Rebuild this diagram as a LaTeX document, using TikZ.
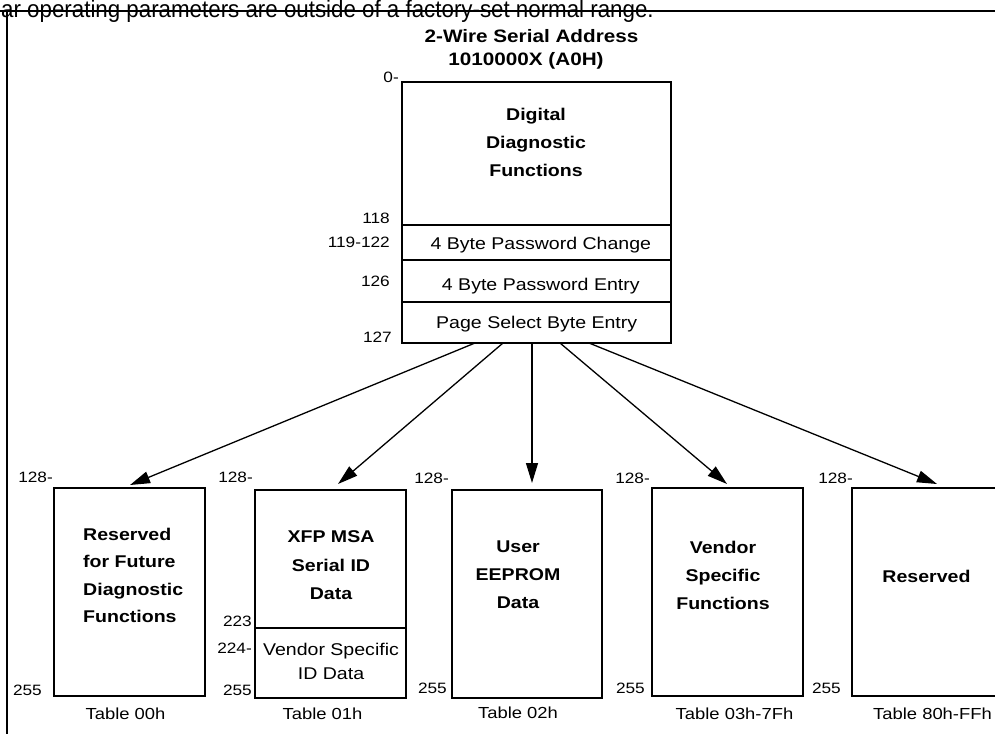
\documentclass[tikz,border=0pt]{standalone}
\usepackage{fontspec}
\setmainfont[FakeStretch=1.15]{Liberation Sans}
\newfontfamily\cutfont[FakeStretch=0.93]{Liberation Sans}
\usetikzlibrary{arrows.meta}
\begin{document}
\begin{tikzpicture}[x=1pt,y=-1pt,
  box/.style={draw, line width=1.2pt, inner sep=0pt, outer sep=0pt},
  btxt/.style={font=\bfseries\fontsize{17}{28}\selectfont, align=center, inner sep=0pt},
  rtxt/.style={font=\fontsize{17}{24}\selectfont, align=center, inner sep=0pt},
  num/.style={font=\fontsize{15}{15}\selectfont, inner sep=0pt, anchor=east},
  tbl/.style={font=\fontsize{16}{16}\selectfont, inner sep=0pt},
  frame/.style={line width=1.2pt},
  arr/.style={line width=1.3pt, -{Triangle[length=20pt,width=12pt]}},
]
\useasboundingbox (0,0) rectangle (995,734);
\clip (0,0) rectangle (995,734);
\fill[white] (0,0) rectangle (995,734);

% clipped running text and frame
\node[anchor=base west, inner sep=0pt, font=\cutfont\fontsize{24}{24}\selectfont] (cut) at (1,17) {ar operating parameters are outside of a factory-set normal range.};
\coordinate (ftl) at (0,11);
\coordinate (ftr) at (995,11);
\coordinate (fvt) at (7,11);
\coordinate (fvb) at (7,734);
\draw[frame] (ftl) -- (ftr);
\draw[frame] (fvt) -- (fvb);

% title
\node[anchor=base, inner sep=0pt, font=\bfseries\fontsize{18}{18}\selectfont] (title1) at (531.5,42) {2-Wire Serial Address};
\node[anchor=base, inner sep=0pt, font=\bfseries\fontsize{18}{18}\selectfont] (title2) at (526,65) {1010000X (A0H)};

% top memory map
\node[box, minimum width=269pt, minimum height=143pt] (ddf) at (536.5,153.5) {};
\node[box, minimum width=269pt, minimum height=35pt] (pwc) at (536.5,242.5) {};
\node[box, minimum width=269pt, minimum height=42pt] (pwe) at (536.5,281) {};
\node[box, minimum width=269pt, minimum height=41pt] (psb) at (536.5,322.5) {};

\node[btxt] (ddft) at (536,142.5) {Digital\\Diagnostic\\Functions};
\node[anchor=base, rtxt] (pwct) at (540.8,249.3) {4 Byte Password Change};
\node[anchor=base, rtxt] (pwet) at (540.8,290.7) {4 Byte Password Entry};
\node[anchor=base, rtxt] (psbt) at (536.7,328.3) {Page Select Byte Entry};

\node[num] (n0) at (399,77) {0-};
\node[num] (n118) at (390,218) {118};
\node[num] (n119) at (390,242) {119-122};
\node[num] (n126) at (390,281) {126};
\node[num] (n127) at (392,337) {127};

% lower tables
\node[box, minimum width=151pt, minimum height=208pt] (b1) at (129.5,592) {};
\node[box, minimum width=151pt, minimum height=138pt] (b2u) at (330.5,559) {};
\node[box, minimum width=151pt, minimum height=70pt] (b2l) at (330.5,663) {};
\node[box, minimum width=150pt, minimum height=208pt] (b3) at (527,594) {};
\node[box, minimum width=151pt, minimum height=208pt] (b4) at (727.5,592) {};
\node[box, minimum width=151pt, minimum height=208pt] (b5) at (927.5,592) {};

\node[btxt, align=left, anchor=west, font=\bfseries\fontsize{17}{27.4}\selectfont] (t1) at (83,575.5) {Reserved\\for Future\\Diagnostic\\Functions};
\node[btxt, font=\bfseries\fontsize{17}{28.5}\selectfont] (t2u) at (331,565.5) {XFP MSA\\Serial ID\\Data};
\node[rtxt, font=\fontsize{17}{23.5}\selectfont] (t2l) at (331,661.5) {Vendor Specific\\ID Data};
\node[btxt] (t3) at (518,575) {User\\EEPROM\\Data};
\node[btxt] (t4) at (723,575) {Vendor\\Specific\\Functions};
\node[btxt] (t5) at (926.5,576.5) {Reserved};

\node[tbl] (tb1) at (125.5,714) {Table 00h};
\node[tbl] (tb2) at (322.5,714) {Table 01h};
\node[tbl] (tb3) at (518,713) {Table 02h};
\node[tbl] (tb4) at (734.5,714) {Table 03h-7Fh};
\node[tbl] (tb5) at (932.5,714) {Table 80h-FFh};

\node[num] (s1) at (53,477) {128-};
\node[num] (s2) at (253,477) {128-};
\node[num] (s3) at (449,478) {128-};
\node[num] (s4) at (650,478) {128-};
\node[num] (s5) at (853,478) {128-};

\node[num] (e1) at (42,690) {255};
\node[num] (e2) at (252,690) {255};
\node[num] (e3) at (447,688) {255};
\node[num] (e4) at (645,688) {255};
\node[num] (e5) at (841,688) {255};

\node[num] (n223) at (252,621) {223};
\node[num] (n224) at (252,648) {224-};

% arrows
\draw[arr] ([xshift=-61.5pt]psb.south) -- ([xshift=0.5pt,yshift=3pt]b1.north);
\draw[arr] ([xshift=-33.5pt]psb.south) -- ([xshift=7.5pt,yshift=6pt]b2u.north);
\draw[arr] ([xshift=-4.5pt]psb.south) -- ([xshift=5pt,yshift=7pt]b3.north);
\draw[arr] ([xshift=23.5pt]psb.south) -- ([xshift=-0.5pt,yshift=4pt]b4.north);
\draw[arr] ([xshift=52.5pt]psb.south) -- ([xshift=9.5pt,yshift=4pt]b5.north);
\end{tikzpicture}
\end{document}
